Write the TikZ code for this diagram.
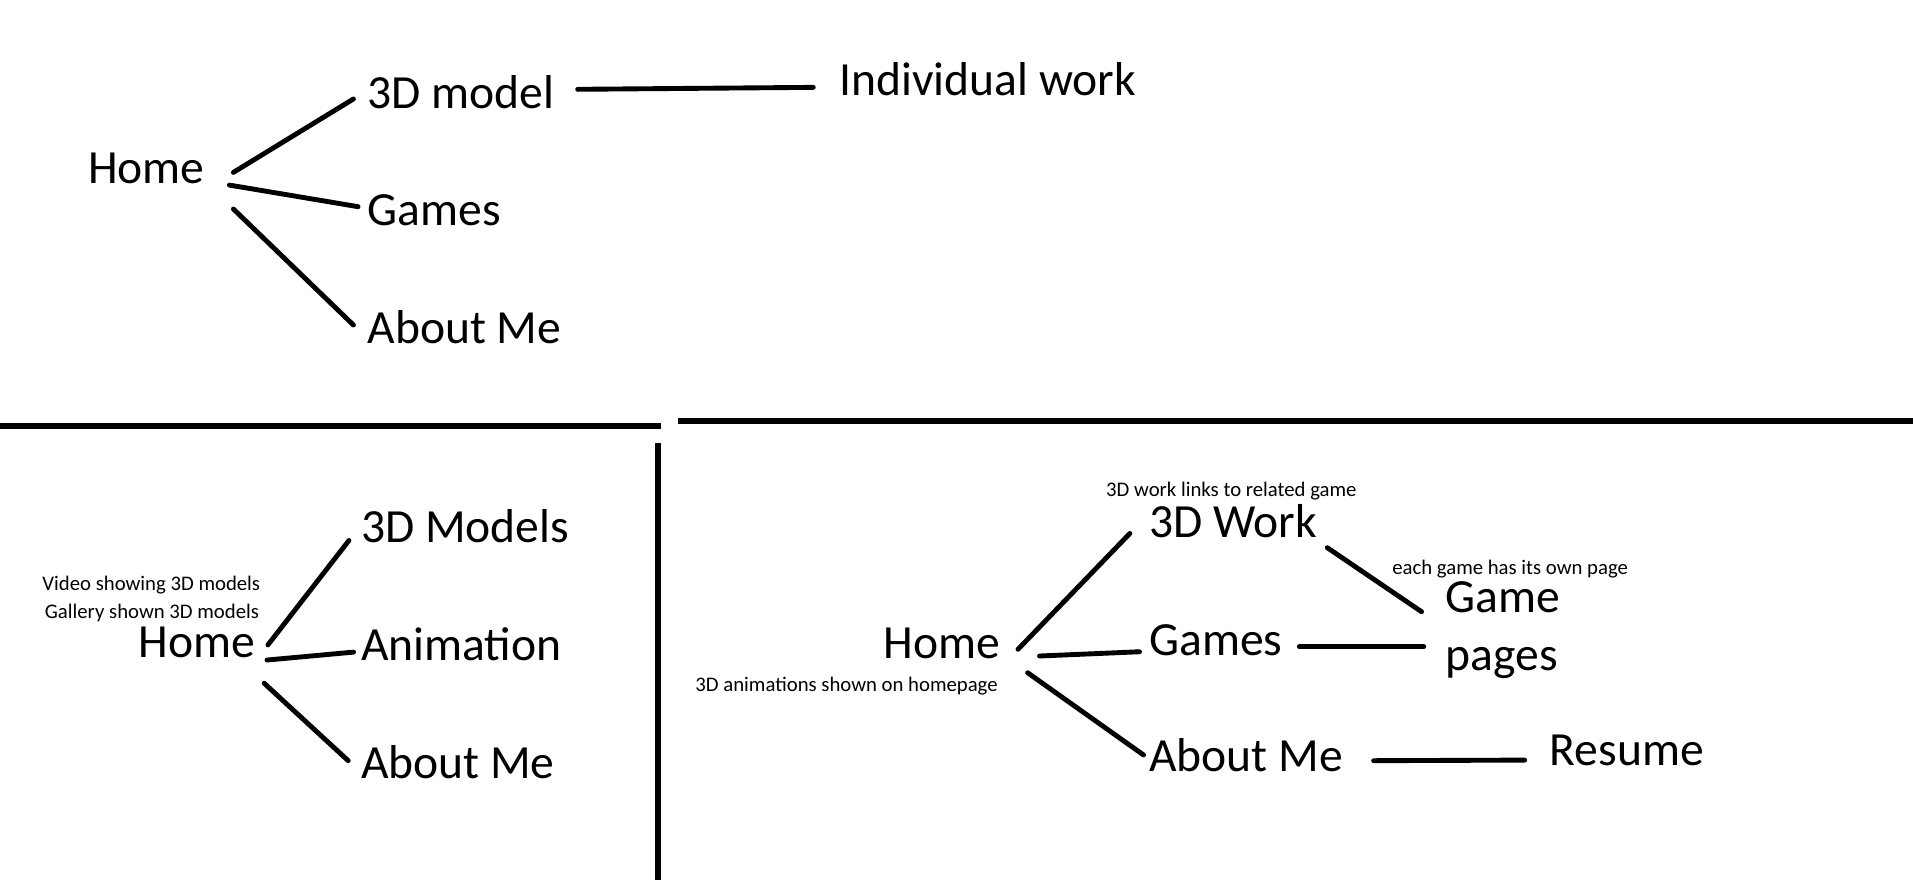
\documentclass[tikz,border=0pt]{standalone}
\usepackage{fontspec}
\setmainfont{Carlito}
\usetikzlibrary{calc}
\tikzset{
  big/.style={anchor=base west, inner sep=0pt, font=\fontsize{39}{47.7}\selectfont},
  small/.style={anchor=base west, inner sep=0pt, font=\fontsize{17}{20}\selectfont},
  conn/.style={line width=4pt, line cap=round},
  divider/.style={line width=5pt}
}
\begin{document}
\begin{tikzpicture}[x=1pt,y=-1pt]
\useasboundingbox (0,0) rectangle (1568,721.3);
% top panel
\node[big] (h1) at (72,150) {Home};
\node[big] (m1) at (301,89) {3D model};
\node[big] (iw) at (688,78) {Individual work};
\node[big] (g1) at (301,185) {Games};
\node[big] (a1) at (301,281.5) {About Me};
\draw[conn] ($(h1.base west)+(119.3,-8.7)$) -- ($(m1.base west)+(-11.3,-7.9)$);
\draw[conn] ($(h1.base west)+(116,1.7)$) -- ($(g1.base west)+(-7.5,-15.6)$);
\draw[conn] ($(h1.base west)+(119.3,21.3)$) -- ($(a1.base west)+(-11.3,-15.1)$);
\draw[conn] ($(m1.base west)+(172.5,-15.8)$) -- ($(iw.base west)+(-21.4,-6.4)$);
% dividers
\coordinate (d1a) at (0,349);
\coordinate (d1b) at (541.6,349);
\coordinate (d2a) at (556,344.8);
\coordinate (d2b) at (1568,344.8);
\coordinate (d3a) at (539,363);
\coordinate (d3b) at (539,721.3);
\draw[divider] (d1a) -- (d1b);
\draw[divider] (d2a) -- (d2b);
\draw[divider] (d3a) -- (d3b);
% bottom-left panel
\node[small] (v1) at (34.6,483.6) {Video showing 3D models};
\node[small] (gal) at (36.6,506.6) {Gallery shown 3D models};
\node[big] (h2) at (113.3,539) {Home};
\node[big] (m2) at (295.7,444.8) {3D Models};
\node[big] (an) at (295.7,541) {Animation};
\node[big] (a2) at (295.7,637.7) {About Me};
\draw[conn] ($(h2.base west)+(106.3,-10.4)$) -- ($(m2.base west)+(-9.7,-1.8)$);
\draw[conn] ($(h2.base west)+(105.5,2)$) -- ($(an.base west)+(-5.9,-6.5)$);
\draw[conn] ($(h2.base west)+(103.2,21)$) -- ($(a2.base west)+(-10.3,-14.2)$);
% bottom-right panel
\node[small] (n1) at (906.5,407) {3D work links to related game};
\node[big] (w3) at (941.8,440.4) {3D Work};
\node[small] (n2) at (1141,470.5) {each game has its own page};
\node[big, align=left] (gp) at (1184.8,549.7) {Game\\pages};
\node[big] (h3) at (724.3,539.6) {Home};
\node[small] (n3) at (569.8,566.4) {3D animations shown on homepage};
\node[big] (g3) at (941.8,536.9) {Games};
\node[big] (a3) at (941.8,632.5) {About Me};
\node[big] (rs) at (1270,627.6) {Resume};
\draw[conn] ($(h3.base west)+(110.1,-7.4)$) -- ($(w3.base west)+(-15.7,-3.2)$);
\draw[conn] ($(h3.base west)+(127.7,-1.9)$) -- ($(g3.base west)+(-7.8,-2.7)$);
\draw[conn] ($(h3.base west)+(118,11.8)$) -- ($(a3.base west)+(-4.5,-13.7)$);
\draw[conn] ($(w3.base west)+(146.1,8.5)$) -- ($(gp.base west)+(-19.6,-48.3)$);
\draw[conn] ($(g3.base west)+(123.2,-6.9)$) -- ($(gp.base west)+(-17.8,-19.7)$);
\draw[conn] ($(a3.base west)+(184.1,-9)$) -- ($(rs.base west)+(-20.3,-4.6)$);
\end{tikzpicture}
\end{document}
